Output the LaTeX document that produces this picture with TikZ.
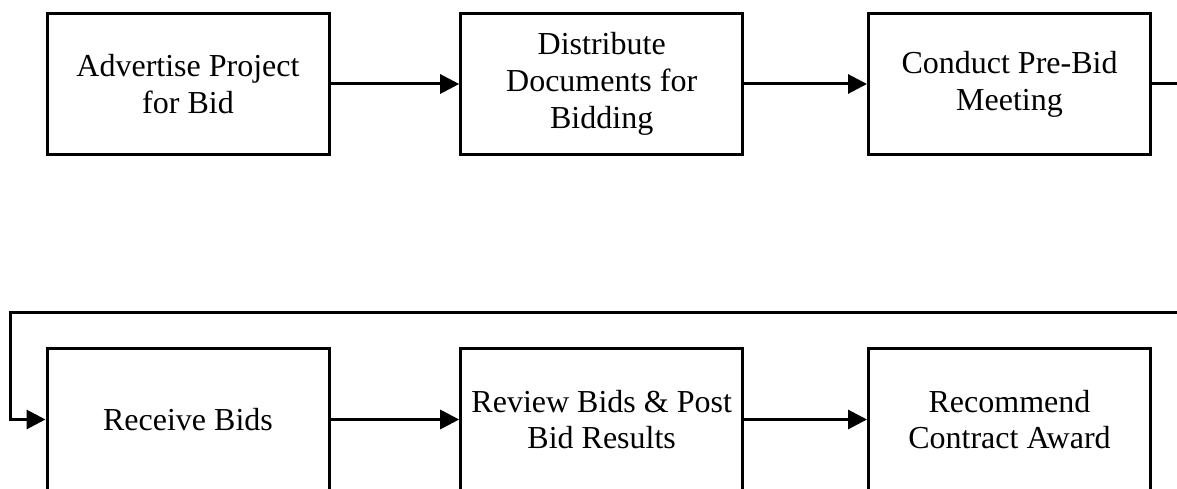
\documentclass[tikz,border=0pt]{standalone}
\usepackage{fontspec}
\setmainfont{Liberation Serif}
\usetikzlibrary{arrows.meta}
\begin{document}
\begin{tikzpicture}[x=1pt,y=-1pt,
  stepbox/.style={draw=black,line width=3pt,minimum width=282pt,minimum height=141.5pt,inner sep=0pt,align=center,
    font=\fontsize{32pt}{36.8pt}\selectfont},
  conn/.style={line width=3pt,-{Triangle[length=19pt,width=19pt]}},
  plain/.style={line width=3pt}]
\clip (0,0) rectangle (1177,489);
\fill[white] (0,0) rectangle (1177,489);
\node[stepbox] (b1) at (188,84) {Advertise Project\\for Bid};
\node[stepbox] (b2) at (601.7,84) {Distribute\\Documents for\\Bidding};
\node[stepbox] (b3) at (1009.5,84) {Conduct Pre-Bid\\Meeting};
\node[stepbox] (b4) at (188,419.5) {Receive Bids};
\node[stepbox] (b5) at (601.7,419.5) {Review Bids \& Post\\Bid Results};
\node[stepbox] (b6) at (1009.5,419.5) {Recommend\\Contract Award};
\coordinate (r1) at (1190,84);
\coordinate (r2) at (1190,312);
\coordinate (l1) at (10,312);
\draw[conn] (b1.east) -- (b2.west);
\draw[conn] (b2.east) -- (b3.west);
\draw[plain] (b3.east) -- (r1);
\draw[conn] (r2) -- (l1) |- (b4.west);
\draw[conn] (b4.east) -- (b5.west);
\draw[conn] (b5.east) -- (b6.west);
\end{tikzpicture}
\end{document}
